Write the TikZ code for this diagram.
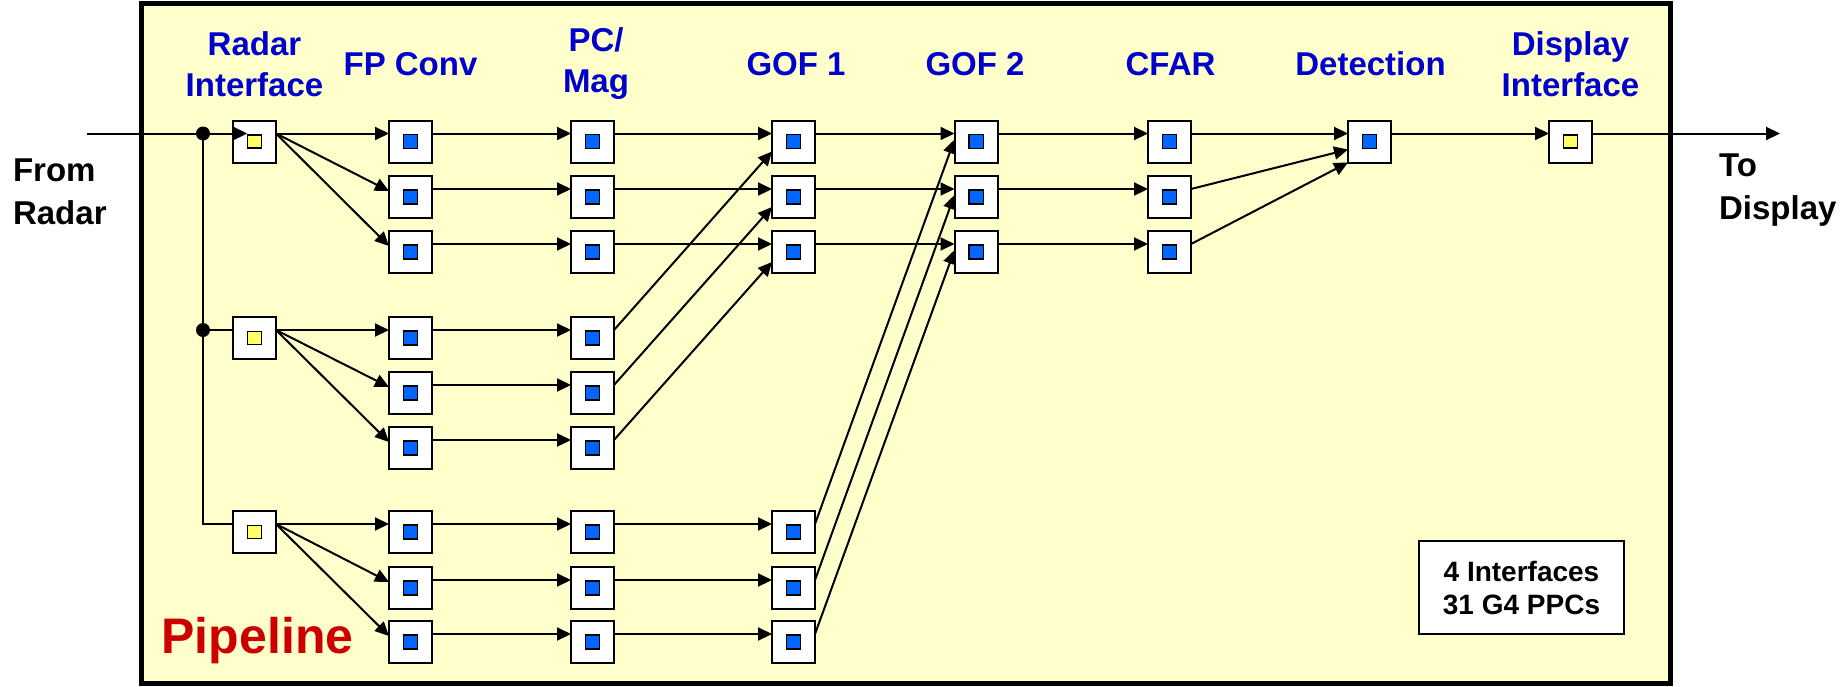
\documentclass[tikz,border=0pt]{standalone}
\usepackage{fontspec}
\setmainfont{Liberation Sans}
\usepackage{tikz}
\usetikzlibrary{arrows.meta}

\definecolor{PipeBg}{RGB}{255,255,204}
\definecolor{PpcBlue}{RGB}{0,102,255}
\definecolor{IfYellow}{RGB}{255,255,102}
\definecolor{HeadBlue}{RGB}{0,0,204}
\definecolor{PipeRed}{RGB}{204,0,0}

\begin{document}
\begin{tikzpicture}[
	x=0.5pt, y=-0.5pt,
	MyLine/.style={line width=1pt},
	MyArrow/.style={line width=1pt, -{Triangle[length=7pt, width=6.5pt]}},
	MyBox/.style={draw, fill=white, line width=1pt, minimum width=21.5pt,
		minimum height=21pt, inner sep=0pt, outer sep=0pt},
	MyPPC/.style={MyBox, path picture={\draw[fill=PpcBlue, line width=0.7pt,
		shift={(path picture bounding box.center)}] (-3.6pt,-3.5pt) rectangle (3.6pt,3.5pt);}},
	MyIface/.style={MyBox, path picture={\draw[fill=IfYellow, line width=0.7pt,
		shift={(path picture bounding box.center)}] (-3.5pt,-3.2pt) rectangle (3.5pt,3.2pt);}},
	MyHead/.style={text=HeadBlue, align=center,
		font=\fontsize{16.5pt}{20.5pt}\selectfont\bfseries},
	MyText/.style={align=left, font=\fontsize{16.5pt}{21.5pt}\selectfont\bfseries},
	]
	\useasboundingbox (0,0) rectangle (1845,686);
	% frame of the pipeline
	\draw[fill=PipeBg, line width=2.5pt] (141.5,3) rectangle (1670.5,683);

	\node[MyHead] (hri) at (254.5,64) {Radar\\Interface};
	\node[MyHead] (hfp) at (410.5,64) {FP Conv};
	\node[MyHead] (hpc) at (596,64) {PC/\\Mag};
	\node[MyHead] (hga) at (796,64) {GOF 1};
	\node[MyHead] (hgb) at (975,64) {GOF 2};
	\node[MyHead] (hcf) at (1170.5,64) {CFAR};
	\node[MyHead] (hdet) at (1370.5,64) {Detection};
	\node[MyHead] (hdi) at (1570.5,64) {Display\\Interface};

	\node[MyIface] (ri1) at (254.5,141.5) {};
	\node[MyIface] (ri2) at (254.5,338) {};
	\node[MyIface] (ri3) at (254.5,532) {};

	\node[MyPPC] (fp1) at (410.5,141.5) {};
	\node[MyPPC] (fp2) at (410.5,197) {};
	\node[MyPPC] (fp3) at (410.5,252) {};
	\node[MyPPC] (fp4) at (410.5,338) {};
	\node[MyPPC] (fp5) at (410.5,393) {};
	\node[MyPPC] (fp6) at (410.5,448) {};
	\node[MyPPC] (fp7) at (410.5,532) {};
	\node[MyPPC] (fp8) at (410.5,588) {};
	\node[MyPPC] (fp9) at (410.5,642) {};

	\node[MyPPC] (pc1) at (592.5,141.5) {};
	\node[MyPPC] (pc2) at (592.5,197) {};
	\node[MyPPC] (pc3) at (592.5,252) {};
	\node[MyPPC] (pc4) at (592.5,338) {};
	\node[MyPPC] (pc5) at (592.5,393) {};
	\node[MyPPC] (pc6) at (592.5,448) {};
	\node[MyPPC] (pc7) at (592.5,532) {};
	\node[MyPPC] (pc8) at (592.5,588) {};
	\node[MyPPC] (pc9) at (592.5,642) {};

	\node[MyPPC] (ga1) at (793.5,141.5) {};
	\node[MyPPC] (ga2) at (793.5,197) {};
	\node[MyPPC] (ga3) at (793.5,252) {};
	\node[MyPPC] (ga4) at (793.5,532) {};
	\node[MyPPC] (ga5) at (793.5,588) {};
	\node[MyPPC] (ga6) at (793.5,642) {};

	\node[MyPPC] (gb1) at (976,141.5) {};
	\node[MyPPC] (gb2) at (976,197) {};
	\node[MyPPC] (gb3) at (976,252) {};

	\node[MyPPC] (cf1) at (1169.5,141.5) {};
	\node[MyPPC] (cf2) at (1169.5,197) {};
	\node[MyPPC] (cf3) at (1169.5,252) {};

	\node[MyPPC] (det) at (1369.5,141.5) {};
	\node[MyIface] (di) at (1570.5,141.5) {};

	\coordinate (src) at (87,133.5);
	\coordinate (dst) at (1780,133.5);
	\coordinate (dot1) at (203,133.5);
	\coordinate (dot2) at (203,330);
	\coordinate (bus3) at (203,524);

	% input bus
	\draw[MyArrow] (src) -- ([xshift=-3.6pt,yshift=4pt]ri1.center);
	\draw[MyLine] (dot1) -- (bus3) -- ([yshift=4pt]ri3.west);
	\draw[MyLine] (dot2) -- ([yshift=4pt]ri2.west);
	\fill (dot1) circle (3.5pt);
	\fill (dot2) circle (3.5pt);

	\foreach \r/\a/\b/\c in {ri1/fp1/fp2/fp3, ri2/fp4/fp5/fp6, ri3/fp7/fp8/fp9} {
		\draw[MyArrow] ([yshift=4pt]\r.east) -- ([yshift=4pt]\a.west);
		\draw[MyArrow] ([yshift=4pt]\r.east) -- ([yshift=3pt]\b.west);
		\draw[MyArrow] ([yshift=4pt]\r.east) -- ([yshift=3pt]\c.west);
	}
	\foreach \i in {1,...,9}
		\draw[MyArrow] ([yshift=4pt]fp\i.east) -- ([yshift=4pt]pc\i.west);

	% corner turn
	\foreach \a/\b in {pc1/ga1, pc2/ga2, pc3/ga3, pc7/ga4, pc8/ga5, pc9/ga6,
		ga1/gb1, ga2/gb2, ga3/gb3, gb1/cf1, gb2/cf2, gb3/cf3, cf1/det, det/di}
		\draw[MyArrow] ([yshift=4pt]\a.east) -- ([yshift=4pt]\b.west);
	\foreach \a/\b in {pc4/ga1, pc5/ga2, pc6/ga3}
		\draw[MyArrow] ([yshift=4pt]\a.east) -- ([yshift=-5pt]\b.west);
	\foreach \a/\b in {ga4/gb1, ga5/gb2, ga6/gb3}
		\draw[MyArrow] ([yshift=4pt]\a.east) -- ([yshift=1pt]\b.west);

	\draw[MyArrow] ([yshift=4pt]cf2.east) -- ([yshift=-4pt]det.west);
	\draw[MyArrow] ([yshift=4pt]cf3.east) -- (det.south west);
	\draw[MyArrow] ([yshift=4pt]di.east) -- (dst);

	\node[MyText, anchor=west] (from) at (6,192) {From\\Radar};
	\node[MyText, anchor=west] (to) at (1712,190) {To\\Display};
	\node[text=PipeRed, anchor=base, font=\fontsize{25pt}{30pt}\selectfont\bfseries]
		(pipe) at (257.5,653) {Pipeline};
	\node[draw, fill=white, line width=0.75pt, minimum width=102.5pt,
		minimum height=46.5pt, align=center,
		font=\fontsize{14pt}{16.5pt}\selectfont\bfseries] (count) at (1521.5,587.5)
		{4 Interfaces\\31 G4 PPCs};
\end{tikzpicture}
\end{document}
